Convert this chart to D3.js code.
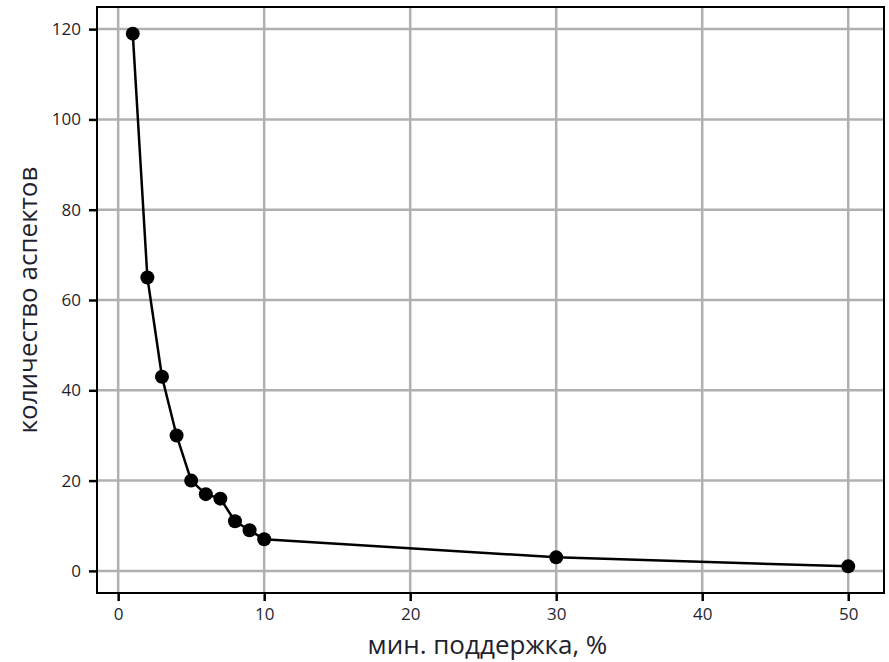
<!DOCTYPE html>
<html lang="ru">
<head>
  <meta charset="UTF-8" />
  <title>Количество аспектов</title>
  <script src="https://d3js.org/d3.v7.min.js"></script>
  <style>
    body { margin: 0; background: #fff; font-family: "Open Sans", "DejaVu Sans", sans-serif; }
    .grid line { stroke: #b0b0b0; stroke-width: 2.5px; }
    .axis text { font-family: "Open Sans", sans-serif; font-size: 17px; fill: #1f1f2e; }
    .axis path { display: none; }
    .axis line { stroke: #000; stroke-width: 2.5px; }
    .label { font-family: "Open Sans", sans-serif; font-size: 26px; fill: #1f1f2e; }
  </style>
</head>
<body>
  <svg width="889" height="662"></svg>
  <script>
    const support = [1, 2, 3, 4, 5, 6, 7, 8, 9, 10, 30, 50];
    const aspects = [119, 65, 43, 30, 20, 17, 16, 11, 9, 7, 3, 1];
    const xTicks = [0, 10, 20, 30, 40, 50];
    const yTicks = [0, 20, 40, 60, 80, 100, 120];

    const svg = d3.select("svg");
    const margin = { top: 7, right: 5, bottom: 69, left: 97 };
    const width = +svg.attr("width") - margin.left - margin.right;
    const height = +svg.attr("height") - margin.top - margin.bottom;
    const chart = svg.append("g")
      .attr("transform", `translate(${margin.left},${margin.top})`);

    const x = d3.scaleLinear().domain([-1.45, 52.45]).range([0, width]);
    const y = d3.scaleLinear().domain([-4.9, 124.9]).range([height, 0]);

    // grid
    chart.append("g").attr("class", "grid")
      .selectAll("line").data(xTicks).join("line")
      .attr("x1", d => x(d)).attr("x2", d => x(d))
      .attr("y1", 0).attr("y2", height);
    chart.append("g").attr("class", "grid")
      .selectAll("line").data(yTicks).join("line")
      .attr("x1", 0).attr("x2", width)
      .attr("y1", d => y(d)).attr("y2", d => y(d));

    // axes
    chart.append("g").attr("class", "axis")
      .attr("transform", `translate(0,${height})`)
      .call(d3.axisBottom(x).tickValues(xTicks).tickSize(8).tickPadding(7));
    chart.append("g").attr("class", "axis")
      .call(d3.axisLeft(y).tickValues(yTicks).tickSize(8).tickPadding(8));

    // frame
    chart.append("rect")
      .attr("width", width).attr("height", height)
      .attr("fill", "none").attr("stroke", "#000").attr("stroke-width", 2);

    // line + markers
    const pts = support.map((s, i) => [s, aspects[i]]);
    chart.append("path")
      .datum(pts)
      .attr("fill", "none")
      .attr("stroke", "#000")
      .attr("stroke-width", 2.5)
      .attr("d", d3.line().x(d => x(d[0])).y(d => y(d[1])));
    chart.selectAll(".dot")
      .data(pts).join("circle")
      .attr("class", "dot")
      .attr("cx", d => x(d[0])).attr("cy", d => y(d[1]))
      .attr("r", 7).attr("fill", "#000");

    // labels
    svg.append("text").attr("class", "label")
      .attr("x", margin.left + width / 2 - 3).attr("y", 654)
      .attr("text-anchor", "middle")
      .text("мин. поддержка, %");
    svg.append("text").attr("class", "label")
      .attr("transform", `translate(37,${margin.top + height / 2}) rotate(-90)`)
      .attr("text-anchor", "middle")
      .text("количество аспектов");
  </script>
</body>
</html>
